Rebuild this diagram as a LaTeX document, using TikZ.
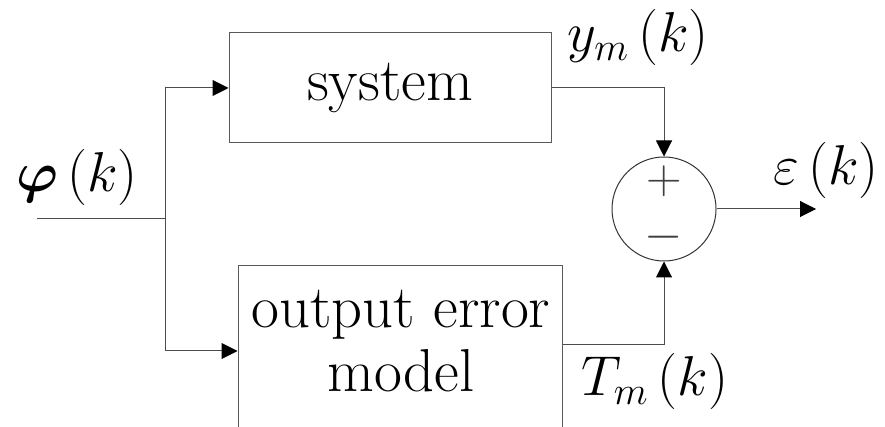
\RequirePackage{fix-cm}
\documentclass[tikz,border=0pt]{standalone}
\usepackage{bm}
\usetikzlibrary{arrows.meta,positioning,calc}
\newcommand{\sigsub}[2]{$#1_{#2}\,(k)$}

\begin{document}
\begin{tikzpicture}[
  x=0.2mm, y=-0.2mm,
  font=\fontsize{34.5}{36}\selectfont, >={Triangle[length=3.2mm, width=3.2mm, color=black]},
  line width=0.2mm,
  blk/.style={draw=black!65, align=center, inner sep=0pt},
  sumnode/.style={draw=black!80, circle, minimum size=20.8mm, inner sep=0pt},
  wire/.style={draw=black!70},
  lab/.style={inner sep=0pt, anchor=base, font=\fontsize{32}{34}\selectfont}]
  \useasboundingbox (0,0) rectangle (885,427);
  % blocks
  \node[blk, minimum width=64.4mm, minimum height=22mm] (sys) at (390,88) {system};
  \node[blk, minimum width=64.8mm, minimum height=34mm] (oem) at (400,351) {};
  \node[align=center, inner sep=0pt, font=\fontsize{34.5}{36.5}\selectfont] (oemtxt) at (401,341) {output error\\model};
  \node[sumnode] (sum) at (664,209) {};
  \node[font=\fontsize{28}{30}\selectfont, inner sep=0pt, text=black!75] (plus) at (664,181) {$+$};
  \node[font=\fontsize{28}{30}\selectfont, inner sep=0pt, text=black!75] (minus) at (664,237) {$-$};
  % signal labels
  \node[lab] (phi) at (77,192) {$\bm{\varphi}\,(k)$};
  \node[lab] (ym) at (638,52) {\sigsub{y}{m}};
  \node[lab] (tm) at (655,396) {\sigsub{T}{m}};
  \node[lab] (eps) at (826,185) {$\varepsilon\,(k)$};
  % connectors
  \coordinate (in) at (37,219);
  \coordinate (split) at (165,219);
  \coordinate (out) at (816,209);
  \draw[wire] (in) -- (split);
  \draw[wire, ->] (split) |- (sys.west);
  \draw[wire, ->] (split) |- (oem.west);
  \draw[wire, ->] (sys.east) -| (sum.north);
  \draw[wire, ->] ([yshift=1.2mm]oem.east) -| (sum.south);
  \draw[wire, ->] (sum.east) -- (out);
\end{tikzpicture}
\end{document}
